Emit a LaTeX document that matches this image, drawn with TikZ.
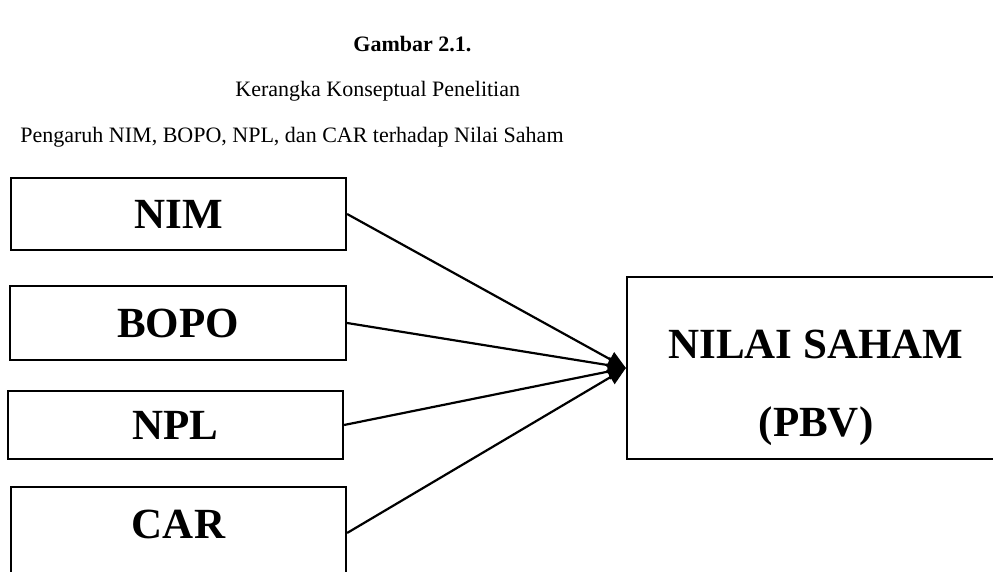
\documentclass[tikz,border=0pt]{standalone}
\usepackage{fontspec}
\setmainfont{Liberation Serif}
\usetikzlibrary{arrows.meta}
\begin{document}
\begin{tikzpicture}[x=0.5pt,y=-0.5pt,
  box/.style={draw,line width=1.1pt,rectangle,inner sep=0pt,font=\fontsize{21.5}{26}\selectfont\bfseries},
  boxtext/.style={inner sep=0pt,anchor=base,font=\fontsize{21.5}{26}\selectfont\bfseries},
  titletext/.style={inner sep=0pt,anchor=base west,font=\fontsize{11}{13}\selectfont},
  conn/.style={line width=1.1pt,-{Triangle[length=9pt,width=8pt]}}]
\useasboundingbox (0,0) rectangle (993,572);
\clip (0,0) rectangle (993,572);
% titles
\node[titletext,font=\fontsize{11}{13}\selectfont\bfseries] (t1) at (353,52) {Gambar 2.1.};
\node[titletext] (t2) at (235,97) {Kerangka Konseptual Penelitian};
\node[titletext] (t3) at (20,143) {Pengaruh NIM, BOPO, NPL, dan CAR terhadap Nilai Saham};
% left boxes
\node[box,minimum width=167.5pt,minimum height=36pt] (nim) at (178.5,214) {NIM};
\node[box,minimum width=168pt,minimum height=37pt] (bopo) at (178,323) {BOPO};
\node[box,minimum width=167.5pt,minimum height=34pt] (npl) at (175.5,425) {NPL};
\node[box,minimum width=167.5pt,minimum height=46pt,text depth=9.2pt] (car) at (178.5,533) {CAR};
% right box
\node[box,minimum width=189pt,minimum height=91pt] (nsbox) at (816,368) {};
\node[boxtext] (ns1) at (816,359) {NILAI SAHAM};
\node[boxtext] (ns2) at (816,437) {(PBV)};
% connectors
\draw[conn] (nim.east) -- (nsbox.west);
\draw[conn] (bopo.east) -- (nsbox.west);
\draw[conn] (npl.east) -- (nsbox.west);
\draw[conn] (car.east) -- (nsbox.west);
\end{tikzpicture}
\end{document}
